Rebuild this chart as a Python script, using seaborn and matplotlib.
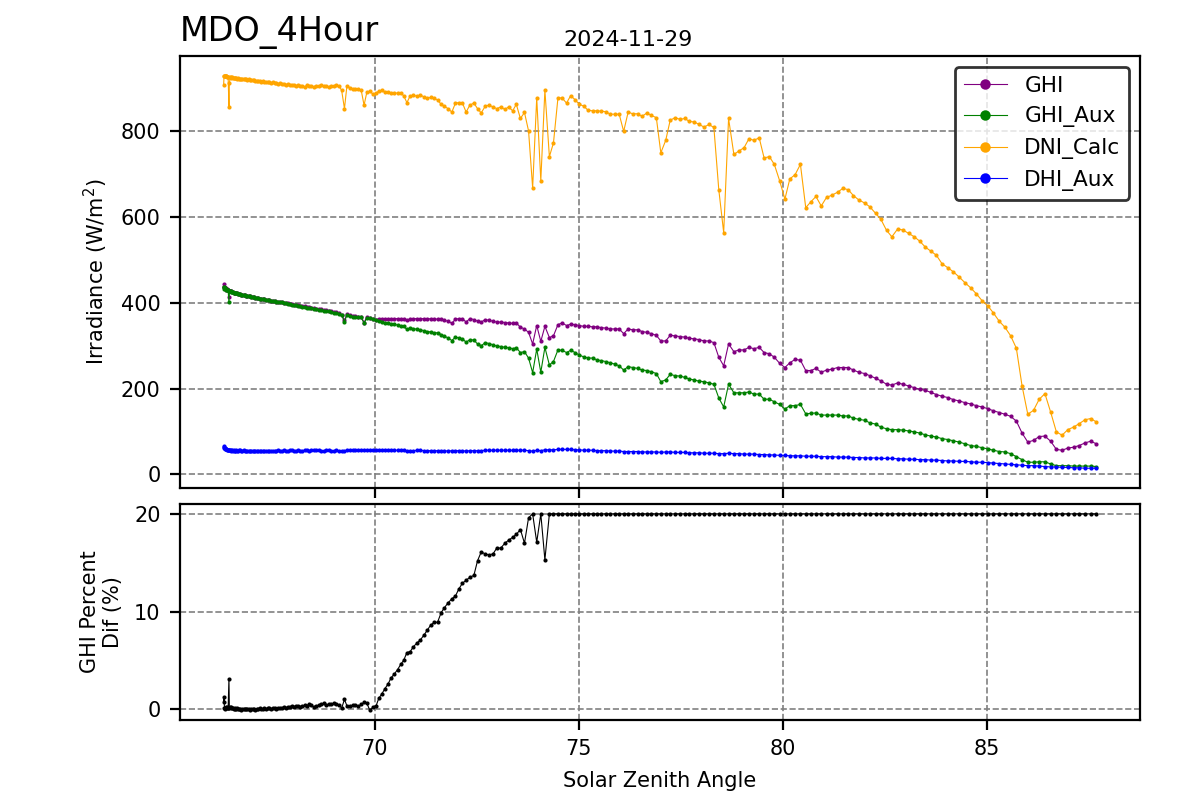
import matplotlib
matplotlib.use("Agg")
import matplotlib.pyplot as plt
import seaborn as sns

# Solar zenith angle of each sample (deg)
sza = [
    66.30, 66.31, 66.32, 66.33, 66.34, 66.35, 66.36, 66.37, 66.38, 66.40,
    66.41, 66.43, 66.44, 66.46, 66.48, 66.49, 66.51, 66.53, 66.55, 66.57,
    66.59, 66.61, 66.63, 66.66, 66.68, 66.71, 66.73, 66.76, 66.79, 66.82,
    66.85, 66.88, 66.91, 66.94, 66.97, 67.01, 67.04, 67.07, 67.11, 67.15,
    67.18, 67.22, 67.26, 67.30, 67.34, 67.38, 67.42, 67.46, 67.50, 67.55,
    67.59, 67.64, 67.68, 67.73, 67.78, 67.82, 67.87, 67.92, 67.97, 68.02,
    68.08, 68.13, 68.18, 68.23, 68.29, 68.34, 68.40, 68.45, 68.51, 68.57,
    68.63, 68.69, 68.75, 68.81, 68.87, 68.94, 69.00, 69.06, 69.13, 69.19,
    69.26, 69.32, 69.39, 69.46, 69.53, 69.60, 69.67, 69.74, 69.81, 69.88,
    69.96, 70.03, 70.10, 70.18, 70.25, 70.33, 70.40, 70.48, 70.56, 70.64,
    70.71, 70.79, 70.87, 70.95, 71.04, 71.12, 71.21, 71.29, 71.37, 71.46,
    71.54, 71.63, 71.71, 71.80, 71.89, 71.98, 72.06, 72.15, 72.24, 72.33,
    72.43, 72.52, 72.61, 72.71, 72.80, 72.90, 72.99, 73.09, 73.19, 73.28,
    73.38, 73.47, 73.57, 73.67, 73.77, 73.87, 73.97, 74.07, 74.17, 74.28,
    74.38, 74.49, 74.59, 74.70, 74.80, 74.91, 75.01, 75.12, 75.23, 75.34,
    75.44, 75.55, 75.66, 75.77, 75.88, 75.99, 76.10, 76.21, 76.32, 76.44,
    76.55, 76.67, 76.78, 76.90, 77.01, 77.13, 77.24, 77.36, 77.48, 77.60,
    77.71, 77.83, 77.95, 78.07, 78.19, 78.31, 78.43, 78.55, 78.67, 78.80,
    78.92, 79.05, 79.17, 79.29, 79.42, 79.54, 79.67, 79.79, 79.92, 80.05,
    80.17, 80.30, 80.43, 80.56, 80.69, 80.81, 80.94, 81.07, 81.20, 81.34,
    81.47, 81.60, 81.73, 81.86, 82.00, 82.13, 82.27, 82.40, 82.54, 82.67,
    82.81, 82.94, 83.08, 83.22, 83.35, 83.49, 83.62, 83.76, 83.90, 84.04,
    84.18, 84.32, 84.46, 84.60, 84.74, 84.88, 85.02, 85.16, 85.30, 85.44,
    85.58, 85.72, 85.86, 86.00, 86.14, 86.28, 86.42, 86.56, 86.70, 86.84,
    86.98, 87.12, 87.26, 87.40, 87.54, 87.68,
]

ghi = [
    436, 444, 436, 435, 434, 434, 432, 431, 432, 430,
    429, 414, 428, 428, 427, 427, 425, 425, 424, 424,
    423, 422, 422, 421, 421, 420, 419, 419, 418, 418,
    417, 416, 416, 415, 414, 414, 413, 412, 411, 411,
    410, 409, 409, 408, 407, 406, 406, 405, 404, 404,
    403, 402, 402, 401, 400, 399, 399, 398, 397, 396,
    395, 394, 393, 392, 392, 390, 390, 389, 387, 386,
    386, 385, 384, 383, 382, 381, 379, 378, 377, 372,
    359, 373, 371, 369, 369, 368, 368, 354, 367, 364,
    363, 361, 362, 362, 362, 363, 363, 363, 363, 363,
    363, 359, 362, 363, 363, 363, 363, 362, 363, 362,
    362, 362, 359, 357, 352, 362, 363, 363, 355, 363,
    361, 357, 355, 361, 359, 357, 355, 355, 354, 353,
    352, 353, 343, 339, 331, 304, 347, 310, 345, 319,
    323, 349, 353, 347, 350, 349, 347, 345, 345, 344,
    344, 342, 341, 339, 339, 339, 328, 339, 337, 337,
    333, 331, 328, 324, 311, 311, 324, 323, 321, 320,
    317, 316, 314, 311, 311, 307, 273, 253, 304, 286,
    290, 290, 296, 293, 296, 284, 281, 273, 259, 249,
    260, 268, 266, 242, 242, 247, 238, 243, 245, 249,
    249, 249, 243, 238, 235, 230, 224, 218, 210, 208,
    213, 210, 206, 202, 198, 196, 191, 186, 182, 179,
    174, 171, 167, 164, 160, 157, 153, 148, 144, 140,
    135, 124, 96, 75, 79, 88, 89, 77, 58, 56,
    61, 63, 67, 73, 77, 71,
]

ghi_aux = [
    433, 438, 436, 435, 434, 433, 432, 431, 431, 430,
    429, 401, 428, 427, 427, 426, 425, 425, 424, 424,
    423, 422, 422, 421, 421, 420, 419, 419, 418, 418,
    417, 416, 416, 415, 414, 414, 413, 412, 411, 411,
    410, 409, 409, 408, 407, 406, 406, 405, 404, 404,
    403, 402, 402, 401, 400, 399, 398, 397, 396, 395,
    394, 393, 392, 391, 390, 389, 388, 387, 386, 385,
    384, 383, 382, 381, 380, 379, 377, 376, 375, 372,
    355, 372, 370, 368, 368, 367, 366, 352, 365, 364,
    362, 360, 358, 356, 354, 353, 351, 350, 348, 346,
    345, 338, 341, 340, 338, 337, 335, 333, 332, 330,
    330, 326, 322, 318, 312, 320, 318, 316, 308, 314,
    313, 304, 300, 307, 305, 302, 299, 298, 296, 295,
    293, 295, 284, 286, 271, 237, 292, 238, 296, 255,
    263, 290, 289, 284, 289, 284, 278, 274, 271, 271,
    267, 265, 263, 260, 257, 253, 243, 251, 249, 247,
    243, 242, 239, 235, 216, 220, 233, 230, 229, 226,
    222, 220, 217, 216, 213, 210, 178, 157, 210, 190,
    190, 190, 192, 187, 187, 175, 175, 169, 163, 152,
    160, 160, 163, 141, 142, 143, 138, 138, 138, 138,
    136, 136, 131, 128, 126, 120, 117, 110, 106, 104,
    104, 103, 101, 99, 96, 92, 89, 87, 83, 81,
    78, 75, 71, 67, 65, 62, 59, 56, 53, 52,
    48, 41, 34, 28, 28, 29, 29, 24, 20, 20,
    20, 19, 19, 19, 19, 18,
]

dni_calc = [
    908, 929, 930, 929, 929, 928, 928, 928, 927, 927,
    927, 856, 912, 926, 926, 925, 926, 925, 925, 924,
    925, 924, 923, 924, 923, 922, 923, 922, 921, 922,
    921, 920, 921, 920, 919, 920, 919, 918, 918, 917,
    918, 916, 917, 915, 916, 914, 915, 913, 914, 912,
    913, 911, 912, 910, 911, 909, 910, 909, 907, 908,
    906, 907, 905, 906, 904, 907, 905, 906, 904, 906,
    905, 907, 905, 906, 904, 906, 905, 907, 905, 896,
    853, 906, 902, 898, 899, 898, 896, 861, 892, 893,
    887, 889, 894, 896, 891, 891, 890, 890, 889, 890,
    883, 867, 883, 884, 882, 885, 880, 878, 879, 877,
    873, 863, 858, 853, 845, 866, 867, 866, 845, 861,
    866, 853, 843, 859, 861, 857, 853, 857, 851, 857,
    848, 863, 830, 844, 801, 668, 878, 685, 896, 741,
    773, 878, 878, 866, 883, 874, 863, 859, 849, 848,
    848, 847, 846, 840, 840, 840, 800, 845, 841, 841,
    835, 843, 837, 832, 750, 779, 826, 832, 828, 830,
    823, 822, 816, 810, 816, 809, 664, 564, 830, 746,
    754, 762, 783, 779, 785, 738, 741, 723, 685, 642,
    689, 699, 723, 622, 636, 648, 626, 646, 651, 658,
    667, 664, 650, 640, 633, 624, 609, 595, 569, 554,
    572, 570, 562, 554, 544, 530, 521, 511, 491, 482,
    472, 460, 447, 435, 421, 405, 393, 376, 357, 343,
    323, 294, 206, 140, 149, 175, 188, 145, 99, 91,
    104, 110, 118, 127, 130, 122,
]

dhi_aux = [
    65, 63, 62, 61, 60, 59, 58, 58, 57, 57,
    57, 56, 56, 56, 55, 56, 56, 55, 56, 55,
    55, 56, 55, 55, 56, 56, 55, 55, 56, 55,
    55, 55, 54, 55, 55, 55, 54, 55, 55, 55,
    54, 55, 55, 55, 54, 55, 55, 54, 55, 55,
    55, 56, 55, 55, 56, 55, 55, 56, 56, 55,
    55, 56, 55, 55, 56, 56, 55, 56, 56, 56,
    56, 55, 55, 56, 56, 55, 55, 56, 55, 54,
    55, 56, 56, 57, 57, 57, 57, 56, 57, 57,
    56, 56, 56, 56, 56, 56, 56, 56, 56, 56,
    56, 55, 55, 55, 56, 56, 55, 55, 55, 55,
    55, 55, 55, 54, 55, 55, 55, 55, 54, 55,
    55, 55, 55, 56, 56, 56, 56, 56, 56, 56,
    56, 56, 56, 56, 55, 54, 56, 55, 57, 57,
    57, 58, 58, 58, 58, 57, 57, 56, 56, 56,
    55, 55, 55, 54, 54, 54, 53, 53, 53, 53,
    52, 52, 52, 52, 51, 52, 52, 51, 51, 51,
    50, 50, 50, 49, 49, 49, 48, 48, 49, 48,
    48, 47, 47, 47, 46, 46, 45, 45, 44, 44,
    43, 43, 43, 42, 42, 42, 41, 41, 41, 40,
    40, 40, 39, 39, 38, 38, 38, 37, 37, 37,
    36, 36, 35, 35, 34, 34, 33, 33, 32, 31,
    31, 30, 30, 29, 28, 28, 27, 26, 25, 24,
    23, 22, 21, 20, 20, 19, 18, 17, 17, 16,
    16, 15, 15, 14, 14, 14,
]

pct_dif = [
    0.7, 1.3, 0.1, 0.0, 0.1, 0.2, 0.1, 0.1, 0.2, 0.1,
    0.1, 3.1, 0.1, 0.2, 0.1, 0.2, 0.1, 0.1, 0.0, 0.1,
    0.0, 0.0, 0.1, 0.0, 0.0, 0.0, -0.1, 0.0, 0.0, 0.0,
    0.0, 0.0, 0.0, -0.1, 0.0, 0.0, 0.0, -0.1, 0.0, 0.0,
    0.1, 0.0, 0.0, 0.1, 0.0, 0.1, 0.1, 0.0, 0.1, 0.1,
    0.0, 0.1, 0.1, 0.1, 0.2, 0.1, 0.2, 0.2, 0.3, 0.2,
    0.3, 0.3, 0.2, 0.3, 0.4, 0.35, 0.55, 0.4, 0.2, 0.3,
    0.4, 0.5, 0.6, 0.4, 0.5, 0.5, 0.6, 0.5, 0.45, 0.1,
    1.0, 0.35, 0.3, 0.4, 0.4, 0.3, 0.5, 0.7, 0.6, -0.1,
    0.2, 0.3, 1.1, 1.6, 2.1, 2.6, 3.2, 3.6, 4.05, 4.6,
    5.0, 5.8, 5.9, 6.4, 6.8, 7.1, 7.6, 8.1, 8.6, 8.9,
    8.9, 9.9, 10.4, 10.9, 11.3, 11.6, 12.3, 12.9, 13.2, 13.5,
    13.7, 15.2, 16.1, 15.9, 15.8, 15.9, 16.5, 16.5, 17.0, 17.3,
    17.6, 17.9, 18.4, 17.0, 19.6, 20.0, 17.1, 20.0, 15.3, 20.0,
    20.0, 20.0, 20.0, 20.0, 20.0, 20.0, 20.0, 20.0, 20.0, 20.0,
    20.0, 20.0, 20.0, 20.0, 20.0, 20.0, 20.0, 20.0, 20.0, 20.0,
    20.0, 20.0, 20.0, 20.0, 20.0, 20.0, 20.0, 20.0, 20.0, 20.0,
    20.0, 20.0, 20.0, 20.0, 20.0, 20.0, 20.0, 20.0, 20.0, 20.0,
    20.0, 20.0, 20.0, 20.0, 20.0, 20.0, 20.0, 20.0, 20.0, 20.0,
    20.0, 20.0, 20.0, 20.0, 20.0, 20.0, 20.0, 20.0, 20.0, 20.0,
    20.0, 20.0, 20.0, 20.0, 20.0, 20.0, 20.0, 20.0, 20.0, 20.0,
    20.0, 20.0, 20.0, 20.0, 20.0, 20.0, 20.0, 20.0, 20.0, 20.0,
    20.0, 20.0, 20.0, 20.0, 20.0, 20.0, 20.0, 20.0, 20.0, 20.0,
    20.0, 20.0, 20.0, 20.0, 20.0, 20.0, 20.0, 20.0, 20.0, 20.0,
    20.0, 20.0, 20.0, 20.0, 20.0, 20.0,
]

series_names = ["GHI", "GHI_Aux", "DNI_Calc", "DHI_Aux"]
series_colors = ["purple", "green", "orange", "blue"]

for arr in (ghi, ghi_aux, dni_calc, dhi_aux, pct_dif):
    assert len(arr) == len(sza), (len(arr), len(sza))

plt.rcParams["font.family"] = ["DejaVu Sans"]
plt.rcParams["font.size"] = 7.5

fig = plt.figure(figsize=(6, 4), dpi=200)
gs = fig.add_gridspec(2, 1, height_ratios=[2, 1], left=0.15, right=0.95,
                      top=0.93, bottom=0.10, hspace=0.05)
ax1 = fig.add_subplot(gs[0])
ax2 = fig.add_subplot(gs[1], sharex=ax1)

base = dict(marker="o", markersize=1.5, markeredgewidth=0, linewidth=0.4,
            estimator=None, sort=False)

for vals, col, lab in zip((ghi, ghi_aux, dni_calc, dhi_aux), series_colors, series_names):
    sns.lineplot(x=sza, y=vals, color=col, markeredgecolor=col, label=lab, ax=ax1, **base)

sns.lineplot(x=sza, y=pct_dif, color="black", markeredgecolor="black", ax=ax2, **base)

for ax in (ax1, ax2):
    ax.grid(True, color="gray", linestyle="--", linewidth=0.6)
    ax.tick_params(labelsize=7.5)

ax1.tick_params(labelbottom=False)
ax1.set_xlabel("")
ax1.set_ylabel("Irradiance (W/m$^2$)", fontsize=7.5)
ax2.set_yticks([0, 10, 20])
ax2.set_ylabel("GHI Percent\nDif (%)", fontsize=7.5)
ax2.set_xlabel("Solar Zenith Angle", fontsize=7.5)

ax1.legend(loc="upper right", edgecolor="black", framealpha=0.8,
           markerscale=2.5, fontsize=7.8)

fig.text(0.15, 0.949, "MDO_4Hour", fontsize=12, ha="left", va="baseline")
fig.text(0.5233, 0.942, "2024-11-29", fontsize=8, ha="center", va="baseline")

fig.savefig("out.png", dpi=200)
